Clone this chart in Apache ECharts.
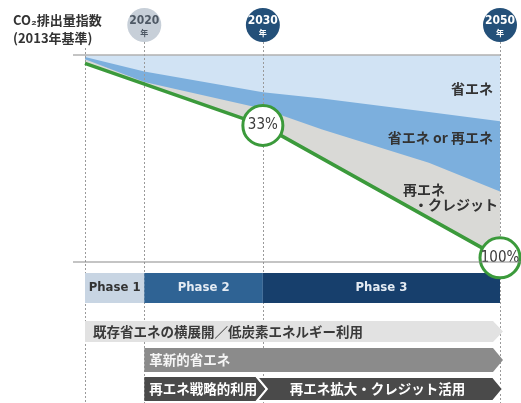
<!DOCTYPE html>
<html><head><meta charset="utf-8">
<script src="https://cdn.jsdelivr.net/npm/echarts@6/dist/echarts.min.js"></script>
<style>html,body{margin:0;padding:0;background:#fff}#c{width:521px;height:403px}</style>
</head><body><div id="c"></div>
<script>
const JP = '"Noto Sans CJK JP", sans-serif';
const NARROW = '"DejaVu Sans Condensed", "Liberation Sans Narrow", "Liberation Sans", sans-serif';

// x = year, y = CO2 emission index (2013 = 100)
const startYear = 2015;
const endYear = 2050;
const indexTop = 100;
const guideYears = [2015, 2020, 2030, 2050];
const milestoneYears = [2020, 2030, 2050];
const milestoneLabels = ['2020', '2030', '2050'];
const milestoneUnit = '年';

const boundaryYears = [2015, 2020, 2030, 2035, 2044, 2050];
const saveEnergyEdge = [99, 92, 82, 79, 72.5, 68];     // lower edge of 省エネ
const eitherEdge = [98, 87, 74, 64, 48, 34];            // lower edge of 省エネ or 再エネ
const pathYears = [2015, 2030, 2050];
const pathIndex = [96, 66, 2];                           // reduction path
const badgeYears = [2030, 2050];
const badgeIndex = [66, 2];
const badgeLabels = ['33%', '100%'];

const regionLabels = ['省エネ', '省エネ or 再エネ', '再エネ', '・クレジット'];
const regionLabelIndex = [83.5, 60, 35, 27.5];

const phaseNames = ['Phase 1', 'Phase 2', 'Phase 3'];
const phaseStart = [2015, 2020, 2030];
const phaseEnd = [2020, 2030, 2050];

const measureNames = ['既存省エネの横展開／低炭素エネルギー利用', '革新的省エネ', '再エネ戦略的利用', '再エネ拡大・クレジット活用'];
const measureStart = [2015, 2020, 2020, 2030];
const measureEnd = [2050, 2050, 2030, 2050];
const measureRow = [1, 2, 3, 3];

// ---- styles / layout ----
const rowTop = [0, 48, 75, 104];
const rowH = [30, 21, 24, 24];
const phaseFill = ['#c8d5e3', '#2f6394', '#173f6c'];
const phaseText = ['#333', '#e4ebf3', '#e4ebf3'];
const rowFill = [null, '#e2e2e2', '#8b8b8b', '#4a4a4a'];
const rowText = [null, '#3a3a3a', '#f5f5f5', '#ffffff'];

const chart = echarts.init(document.getElementById('c'), null, {renderer: 'canvas'});

function renderPhase(params, api) {
  const i = api.value(2);
  const p0 = api.coord([api.value(0), rowTop[0]]);
  const p1 = api.coord([api.value(1), rowTop[0] + rowH[0]]);
  return {
    type: 'group',
    children: [
      {type: 'rect', shape: {x: p0[0], y: p0[1], width: p1[0] - p0[0], height: p1[1] - p0[1]},
       style: {fill: phaseFill[i]}},
      {type: 'text', style: {text: phaseNames[i], x: (p0[0] + p1[0]) / 2, y: (p0[1] + p1[1]) / 2,
        align: 'center', verticalAlign: 'middle', fill: phaseText[i], font: 'bold 13px ' + NARROW}}
    ]
  };
}

function renderMeasure(params, api) {
  const i = api.value(2);
  const row = measureRow[i];
  const p0 = api.coord([api.value(0), rowTop[row]]);
  const p1 = api.coord([api.value(1), rowTop[row] + rowH[row]]);
  const x0 = p0[0], y0 = p0[1], x1 = p1[0], y1 = p1[1], ym = (y0 + y1) / 2;
  const notch = measureStart[i] !== startYear && i === 3;
  const pts = notch
    ? [[x0 - 6, y0], [x1 - 7, y0], [x1 + 3, ym], [x1 - 7, y1], [x0 - 6, y1], [x0 + 4, ym]]
    : [[x0, y0], [x1 - 7, y0], [x1 + 3, ym], [x1 - 7, y1], [x0, y1]];
  const centered = i === 3;
  return {
    type: 'group',
    children: [
      {type: 'polygon', shape: {points: pts},
       style: {fill: rowFill[row], stroke: '#fff', lineWidth: notch ? 2 : 0}},
      {type: 'text', style: {text: measureNames[i],
        x: centered ? (x0 + x1) / 2 - 4 : x0 + (row === 1 ? 8 : 5), y: ym,
        align: centered ? 'center' : 'left', verticalAlign: 'middle',
        fill: rowText[row], font: 'bold 13.5px ' + JP}}
    ]
  };
}

const areaBase = {type: 'line', xAxisIndex: 0, yAxisIndex: 0, symbol: 'none', silent: true,
  lineStyle: {width: 0}, z: 1};

chart.setOption({
  animation: false,
  title: {text: 'CO₂排出量指数\n(2013年基準)', left: 13, top: 11, padding: 0,
    textStyle: {fontSize: 13, fontWeight: 'bold', lineHeight: 18, color: '#333', fontFamily: JP}},
  grid: [
    {left: 85, right: 21, top: 55, bottom: 141},
    {left: 85, right: 21, top: 273, bottom: 0}
  ],
  xAxis: [
    {type: 'value', gridIndex: 0, min: startYear, max: endYear, show: false},
    {type: 'value', gridIndex: 1, min: startYear, max: endYear, show: false}
  ],
  yAxis: [
    {type: 'value', gridIndex: 0, min: 0, max: indexTop, show: false},
    {type: 'value', gridIndex: 1, min: 0, max: 130, inverse: true, show: false}
  ],
  series: [
    Object.assign({}, areaBase, {name: '再エネ・クレジット',
      data: pathYears.map((y, k) => [y, pathIndex[k]]),
      areaStyle: {color: '#d9d9d6', opacity: 1, origin: 'end'}}),
    Object.assign({}, areaBase, {name: '省エネ or 再エネ',
      data: boundaryYears.map((y, k) => [y, eitherEdge[k]]),
      areaStyle: {color: '#7cafdd', opacity: 1, origin: 'end'}}),
    Object.assign({}, areaBase, {name: '省エネ',
      data: boundaryYears.map((y, k) => [y, saveEnergyEdge[k]]),
      areaStyle: {color: '#d1e3f4', opacity: 1, origin: 'end'}}),
    {type: 'line', name: 'path', xAxisIndex: 0, yAxisIndex: 0, symbol: 'none', z: 4,
      data: pathYears.map((y, k) => [y, pathIndex[k]]),
      lineStyle: {color: '#3b9a3b', width: 3.5}},
    {type: 'scatter', xAxisIndex: 0, yAxisIndex: 0, z: 5, symbolSize: 40,
      data: badgeYears.map((y, k) => [y, badgeIndex[k], k]),
      itemStyle: {color: '#fff', borderColor: '#3b9a3b', borderWidth: 3, opacity: 1},
      label: {show: true, position: 'inside', formatter: p => badgeLabels[p.value[2]],
        color: '#3a3a3a', fontSize: 15, fontFamily: NARROW}},
    {type: 'custom', xAxisIndex: 1, yAxisIndex: 1, z: 3, renderItem: renderPhase,
      data: phaseNames.map((n, i) => [phaseStart[i], phaseEnd[i], i])},
    {type: 'custom', xAxisIndex: 1, yAxisIndex: 1, z: 3, renderItem: renderMeasure,
      data: measureNames.map((n, i) => [measureStart[i], measureEnd[i], i])}
  ]
});

const px = v => chart.convertToPixel({xAxisIndex: 0}, v);
const py = v => chart.convertToPixel({yAxisIndex: 0}, v);
const H = 403, W = 521;
const g = [];
const xs = px(startYear), xe = px(endYear);
// frame lines
g.push({type: 'line', z: 2, shape: {x1: xs - 12, y1: py(indexTop), x2: xe, y2: py(indexTop)},
  style: {stroke: '#b0b0b0', lineWidth: 1.5}});
g.push({type: 'line', z: 6, shape: {x1: xs - 12, y1: py(0), x2: W, y2: py(0)},
  style: {stroke: '#8a8a8a', lineWidth: 1.2}});
// dashed guides
guideYears.forEach(y => {
  const x = Math.round(px(y)) + 0.5;
  g.push({type: 'line', z: 2, shape: {x1: x, y1: y === startYear ? 48 : 42, x2: x, y2: H},
    style: {stroke: '#9a9a9a', lineWidth: 1, lineDash: [2, 2]}});
});
// milestone badges
milestoneYears.forEach((y, k) => {
  const x = px(y);
  const first = k === 0;
  g.push({type: 'circle', z: 7, shape: {cx: x, cy: 25, r: 17},
    style: {fill: first ? '#c7cfd8' : '#245079'}});
  g.push({type: 'text', z: 8, style: {text: milestoneLabels[k], x: x, y: 21, align: 'center',
    verticalAlign: 'middle', fill: first ? '#4e5864' : '#fff', font: 'bold 12px ' + NARROW}});
  g.push({type: 'text', z: 8, style: {text: milestoneUnit, x: x, y: 33, align: 'center',
    verticalAlign: 'middle', fill: first ? '#4e5864' : '#fff', font: 'bold 8px ' + JP}});
});
// region labels
const labelX = [xe - 7, xe - 7, xe - 97, xe - 2];
const labelAlign = ['right', 'right', 'left', 'right'];
regionLabels.forEach((t, k) => {
  g.push({type: 'text', z: 6, style: {text: t, x: labelX[k], y: py(regionLabelIndex[k]),
    align: labelAlign[k], verticalAlign: 'middle', fill: '#333', font: 'bold 14px ' + JP}});
});
chart.setOption({graphic: {elements: g}});
</script>
</body></html>
